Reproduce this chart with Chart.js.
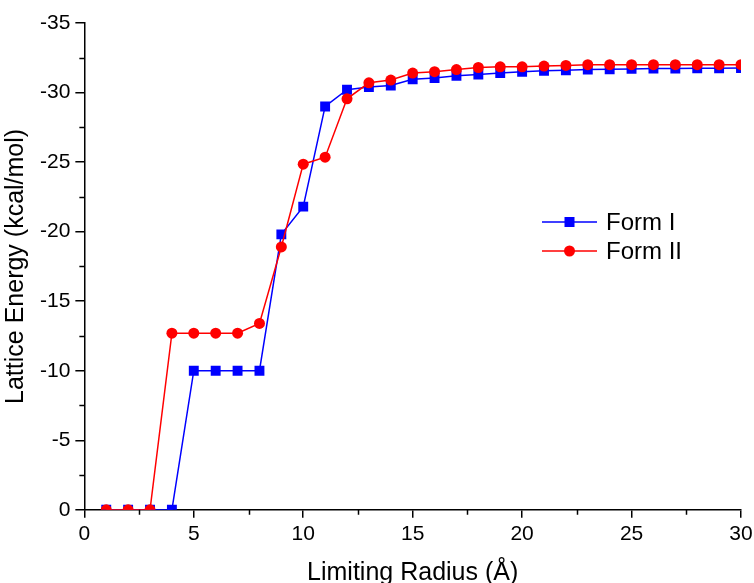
<!DOCTYPE html>
<html>
<head>
<meta charset="utf-8">
<script src="https://cdn.jsdelivr.net/npm/chart.js@4"></script>
<style>
  html, body { margin: 0; padding: 0; background: #fff; }
  #wrap { width: 754px; height: 583px; }
</style>
</head>
<body>
<div id="wrap"><canvas id="chart1" width="754" height="583"></canvas></div>
<script>
var radius = [1, 2, 3, 4, 5, 6, 7, 8, 9, 10, 11, 12, 13, 14, 15, 16, 17, 18, 19, 20, 21, 22, 23, 24, 25, 26, 27, 28, 29, 30];
var formI = [0, 0, 0, 0, -10, -10, -10, -10, -19.8, -21.8, -29.0, -30.2, -30.4, -30.5, -30.95, -31.05, -31.2, -31.3, -31.4, -31.5,
	-31.56, -31.6, -31.65, -31.68, -31.7, -31.72, -31.73, -31.74, -31.75, -31.76];
var formII = [0, 0, 0, -12.7, -12.7, -12.7, -12.7, -13.4, -18.9, -24.85, -25.35, -29.55, -30.7, -30.9, -31.4, -31.5, -31.65, -31.8, -31.85, -31.85,
	-31.9, -31.95, -32.0, -32.0, -32.0, -32.0, -32.0, -32.0, -32.0, -32.0];
var seriesNames = ["Form I", "Form II"];
var xTicks = [0, 5, 10, 15, 20, 25, 30];
var yTicks = [0, -5, -10, -15, -20, -25, -30, -35];

var FONT = "'Liberation Sans', Arial, sans-serif";

function pts(vals) {
	return radius.map(function (r, i) { return { x: r, y: vals[i] }; });
}

// minor ticks halfway between the major ones
var minorTicks = {
	id: "minorTicks",
	afterDraw: function (chart) {
		var c = chart.ctx, xs = chart.scales.x, ys = chart.scales.y;
		c.save();
		c.strokeStyle = "#000";
		c.lineWidth = 1.5;
		c.beginPath();
		for (var v = 2.5; v < 30; v += 5) {
			var px = Math.round(xs.getPixelForValue(v)) + 0.5;
			c.moveTo(px, ys.bottom);
			c.lineTo(px, ys.bottom + 5);
		}
		for (var w = -2.5; w > -35; w -= 5) {
			var py = Math.round(ys.getPixelForValue(w)) + 0.5;
			c.moveTo(xs.left, py);
			c.lineTo(xs.left - 5, py);
		}
		c.stroke();
		c.restore();
	}
};

// legend box drawn inside the plot
var innerLegend = {
	id: "innerLegend",
	afterDraw: function (chart) {
		var c = chart.ctx;
		var x0 = 542, x1 = 597, y0 = 222, gap = 29;
		chart.data.datasets.forEach(function (ds, i) {
			var y = y0 + i * gap;
			c.save();
			c.strokeStyle = ds.borderColor;
			c.lineWidth = 1.5;
			c.beginPath();
			c.moveTo(x0, y);
			c.lineTo(x1, y);
			c.stroke();
			c.fillStyle = ds.backgroundColor;
			var mx = (x0 + x1) / 2;
			if (ds.pointStyle === "rect") {
				c.fillRect(mx - 5, y - 5, 10, 10);
			} else {
				c.beginPath();
				c.arc(mx, y, 5.5, 0, Math.PI * 2);
				c.fill();
			}
			c.fillStyle = "#000";
			c.font = "24px " + FONT;
			c.textBaseline = "middle";
			c.fillText(ds.label, 606, y + 1);
			c.restore();
		});
	}
};

var ctx = document.getElementById("chart1").getContext("2d");
var chartdata = {
	type: "line",
	data: {
		datasets: [
			{
				label: seriesNames[0],
				data: pts(formI),
				borderColor: "#0000ff",
				backgroundColor: "#0000ff",
				borderWidth: 1.5,
				pointStyle: "rect",
				pointRadius: 7,
				pointBorderWidth: 0,
				tension: 0,
				order: 1
			},
			{
				label: seriesNames[1],
				data: pts(formII),
				borderColor: "#ff0000",
				backgroundColor: "#ff0000",
				borderWidth: 1.5,
				pointStyle: "circle",
				pointRadius: 5.5,
				pointBorderWidth: 0,
				tension: 0,
				order: 0
			}
		]
	},
	options: {
		responsive: false,
		animation: false,
		layout: { padding: { top: 23, right: 0, left: 1, bottom: -5 } },
		plugins: {
			legend: { display: false },
			tooltip: { enabled: false }
		},
		scales: {
			x: {
				type: "linear",
				min: 0,
				max: 30,
				border: { display: true, color: "#000", width: 1.5 },
				grid: { display: true, drawOnChartArea: false, drawTicks: true, tickLength: 8, color: "#000", lineWidth: 1.5 },
				afterBuildTicks: function (s) { s.ticks = xTicks.map(function (v) { return { value: v }; }); },
				afterFit: function (s) { s.paddingRight = 13; },
				ticks: { color: "#000", font: { family: FONT, size: 21 }, padding: 4, maxRotation: 0 },
				title: { display: true, text: "Limiting Radius (Å)", color: "#000", font: { family: FONT, size: 25 }, padding: { top: 7, bottom: 0 } }
			},
			y: {
				type: "linear",
				min: -35,
				max: 0,
				reverse: true,
				border: { display: true, color: "#000", width: 1.5 },
				grid: { display: true, drawOnChartArea: false, drawTicks: true, tickLength: 9, color: "#000", lineWidth: 1.5 },
				afterBuildTicks: function (s) { s.ticks = yTicks.map(function (v) { return { value: v }; }); },
				ticks: { color: "#000", font: { family: FONT, size: 21 }, padding: 5 },
				title: { display: true, text: "Lattice Energy (kcal/mol)", color: "#000", font: { family: FONT, size: 25 }, padding: { top: 0, bottom: 4 } }
			}
		}
	},
	plugins: [minorTicks, innerLegend]
};

new Chart(ctx, chartdata);
</script>
</body>
</html>
